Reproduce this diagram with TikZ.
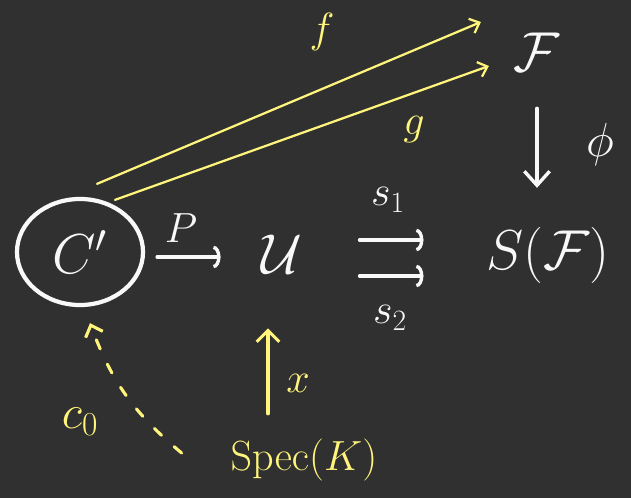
\documentclass[tikz,border=0pt]{standalone}
\usepackage{fix-cm}
\usepackage{xcolor}
\usepackage{tikz}
\usetikzlibrary{positioning, arrows.meta, calc, shapes.geometric}
\definecolor{boardbg}{HTML}{303030}
\definecolor{chalkwhite}{HTML}{F8F8F8}
\definecolor{chalkyellow}{HTML}{FFF47C}

\begin{document}
\begin{tikzpicture}[x=0.025cm, y=-0.025cm,
    chalk/.style={draw=chalkwhite, line width=2.4pt, line cap=round},
    hilite/.style={draw=chalkyellow, line width=1.6pt, line cap=round},
    obj/.style={text=chalkwhite, inner sep=2pt, font=\fontsize{40}{48}\selectfont},
    lbl/.style={text=chalkwhite, inner sep=1pt, font=\fontsize{30}{36}\selectfont},
    ylbl/.style={text=chalkyellow, inner sep=1pt, font=\fontsize{30}{36}\selectfont}]
  \fill[boardbg] (0,0) rectangle (631,498);
  \useasboundingbox (0,0) rectangle (631,498);

  % objects
  \node[obj, ellipse, chalk, line width=3pt, minimum width=3.15cm, minimum height=2.65cm] (cp) at (80,252) {$C'$};
  \node[obj] (U) at (282,254) {$\mathcal{U}$};
  \node[obj] (SF) at (548,255) {$S(\mathcal{F})$};
  \node[obj] (F) at (537,52) {$\mathcal{F}$};
  \node[obj, text=chalkyellow, font=\fontsize{30}{36}\selectfont] (spec) at (304,460) {$\mathrm{Spec}(K)$};

  % white maps
  \draw[chalk, -{Arc Barb[length=5pt, width=16pt]}, shorten <=0.3cm, shorten >=0.95cm]
    ([shift={(0,5)}]cp.east) -- ([shift={(0,5)}]cp.east -| U.west);
  \node[lbl] (P) at (181,228) {$P$};
  \draw[chalk, -{Arc Barb[length=5pt, width=16pt]}, shorten <=1.35cm, shorten >=1.5cm]
    ([shift={(0,-14)}]U.east) -- ([shift={(0,-14)}]U.east -| SF.west);
  \draw[chalk, -{Arc Barb[length=5pt, width=16pt]}, shorten <=1.35cm, shorten >=1.5cm]
    ([shift={(0,22)}]U.east) -- ([shift={(0,22)}]U.east -| SF.west);
  \node[lbl] (s1) at (388,200) {$s_1$};
  \node[lbl] (s2) at (390,318) {$s_2$};
  \draw[chalk, -{Straight Barb[length=10pt, width=18pt]}, shorten <=0.85cm, shorten >=0.9cm]
    (F.south) -- (F.south |- SF.north);
  \node[lbl, font=\fontsize{34}{40}\selectfont] (phi) at (600,145) {$\phi$};

  % yellow maps
  \draw[hilite, -{Straight Barb[length=6pt, width=11pt]}]
    ([shift={(17,-13)}]cp.north) -- ([shift={(-30,-30)}]F.west);
  \draw[hilite, -{Straight Barb[length=6pt, width=11pt]}]
    ([shift={(35,3)}]cp.north) -- ([shift={(-22,14)}]F.west);
  \node[ylbl] (f) at (322,32) {$f$};
  \node[ylbl] (g) at (414,130) {$g$};
  \draw[hilite, line width=2.2pt, -{Straight Barb[length=8pt, width=16pt]}, shorten <=0.55cm, shorten >=1.3cm]
    ([shift={(-36,0)}]spec.north) -- ([shift={(-36,0)}]spec.north |- U.south);
  \node[ylbl] (x) at (298,383) {$x$};
  \draw[hilite, line width=2.2pt, dash pattern=on 7pt off 12pt, -{Straight Barb[length=7pt, width=13pt]}]
    ([shift={(-46,-7)}]spec.west) to[bend left=15] ([shift={(10,16)}]cp.south);
  \node[ylbl, font=\fontsize{34}{40}\selectfont] (c0) at (80,422) {$c_0$};
\end{tikzpicture}
\end{document}
